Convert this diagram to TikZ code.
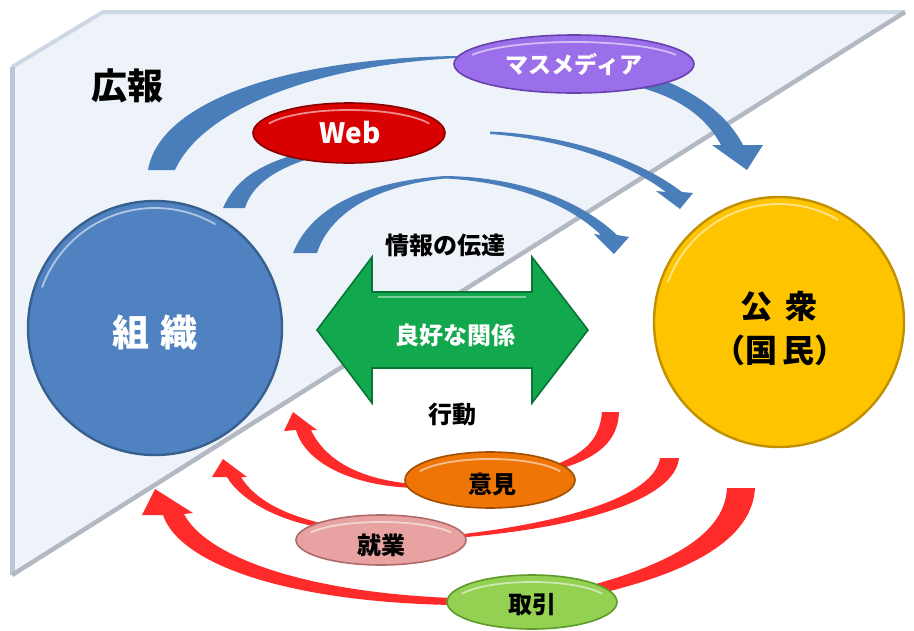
\documentclass[tikz,border=0pt]{standalone}
\usepackage{fontspec}
\setmainfont{Noto Sans CJK JP}
\usetikzlibrary{shapes.geometric}
\definecolor{bgfill}{HTML}{EEF2F9}
\definecolor{bgedge}{HTML}{B9C6D8}
\definecolor{diag}{HTML}{B2B9C3}
\definecolor{infoblue}{HTML}{4A7EBB}
\definecolor{actred}{HTML}{FF2A2A}
\definecolor{orgfill}{HTML}{5082C2}
\definecolor{orgedge}{HTML}{38608F}
\definecolor{pubfill}{HTML}{FFC400}
\definecolor{pubedge}{HTML}{C09000}
\definecolor{relfill}{HTML}{12A84E}
\definecolor{reledge}{HTML}{0A7436}
\definecolor{mmfill}{HTML}{9C6FEA}
\definecolor{mmedge}{HTML}{6840B0}
\definecolor{webfill}{HTML}{D80000}
\definecolor{webedge}{HTML}{8A0000}
\definecolor{opfill}{HTML}{EE7506}
\definecolor{opedge}{HTML}{A04E00}
\definecolor{jobfill}{HTML}{E8A2A2}
\definecolor{jobedge}{HTML}{B06A6A}
\definecolor{trfill}{HTML}{94D052}
\definecolor{tredge}{HTML}{5E9A2A}
\tikzset{
  medium/.style={ellipse, draw, line width=1.6pt, inner sep=0pt},
  bigball/.style={circle, draw, line width=2.4pt, inner sep=0pt},
  lbl/.style={inner sep=0pt, font=\bfseries\fontsize{24}{26}\selectfont},
  gloss/.style={white, opacity=0.55, line width=1.8pt, line cap=round},
}
\begin{document}
\begin{tikzpicture}[x=1pt,y=-1pt]
\useasboundingbox (0,0) rectangle (914,630);
% background panel
\fill[bgfill] (12,67) -- (103,12) -- (905,12) -- (12,575) -- cycle;
\draw[bgedge!70, line width=4pt, line join=round] (12,67) -- (103,12) -- (905,12);
\draw[bgedge, line width=5pt] (12,67) -- (12,575);
\draw[diag, line width=4.5pt] (905,12) -- (12,575);

% blue information arcs
\fill[infoblue] (148,170) .. controls (160,100) and (290,58) .. (458,56)
  -- (458,58) .. controls (330,64) and (205,104) .. (175,170) -- cycle;
\fill[infoblue] (640,72) .. controls (685,85) and (725,110) .. (743,145)
  -- (763,145) -- (747,170) -- (712,145) -- (721,145)
  .. controls (705,115) and (675,95) .. (630,85) -- cycle;
\fill[infoblue] (223,208) .. controls (235,180) and (260,163) .. (305,152)
  -- (305,160) .. controls (275,170) and (252,185) .. (245,208) -- cycle;
\fill[infoblue] (490,131.5) .. controls (570,135) and (640,160) .. (682,192)
  -- (693,193) -- (680,209) -- (656,191) -- (666,192)
  .. controls (630,165) and (570,140) .. (490,134) -- cycle;
\fill[infoblue] (293,253) .. controls (310,210) and (360,182) .. (445,176)
  .. controls (520,177) and (580,200) .. (617,235)
  -- (629,237) -- (614,254) -- (594,234) -- (601,235)
  .. controls (570,205) and (515,182) .. (445,178.5)
  .. controls (375,186) and (330,213) .. (317,253) -- cycle;

% red action arcs
\fill[actred] (311,430) .. controls (325,460) and (360,480) .. (415,484)
  -- (415,488) .. controls (350,486) and (305,462) .. (296,430)
  -- (284,431) -- (293,412) -- (317,430) -- cycle;
\fill[actred] (602,412) -- (619,412) .. controls (618,440) and (600,458) .. (556,470)
  -- (552,466) .. controls (590,452) and (600,435) .. (602,412) -- cycle;
\fill[actred] (241,477) .. controls (255,500) and (285,515) .. (325,524)
  -- (325,528) .. controls (280,522) and (240,500) .. (227,477)
  -- (212,477) -- (223,459) -- (247,477) -- cycle;
\fill[actred] (660,458) -- (679,458) .. controls (675,500) and (580,528) .. (455,538)
  -- (455,535) .. controls (570,522) and (655,495) .. (660,458) -- cycle;
\fill[actred] (184,514) .. controls (205,555) and (300,592) .. (452,598)
  -- (452,605) .. controls (290,602) and (180,565) .. (163,515)
  -- (142,515) -- (155,489) -- (193,513) -- cycle;
\fill[actred] (727,488) -- (755,488) .. controls (752,540) and (690,572) .. (598,594)
  -- (596,584) .. controls (680,560) and (725,530) .. (727,488) -- cycle;

% media ellipses
\node[medium, fill=mmfill, draw=mmedge, minimum width=240pt, minimum height=58pt] (mm) at (574,64) {};
\draw[gloss] (574,64) ++(205:112 and 22) arc[start angle=205, end angle=335, x radius=112, y radius=22];
\node[text=white, font=\bfseries\fontsize{23}{25}\selectfont, inner sep=0pt] (mmt) at (mm.center) {マスメディア};
\node[medium, fill=webfill, draw=webedge, minimum width=192pt, minimum height=60pt] (web) at (349,133) {};
\draw[gloss] (349,133) ++(205:88 and 23) arc[start angle=205, end angle=335, x radius=88, y radius=23];
\node[text=white, font=\bfseries\fontsize{28}{30}\selectfont, inner sep=0pt] (webt) at (350,133) {Web};
\node[medium, fill=opfill, draw=opedge, minimum width=170pt, minimum height=56pt] (op) at (490,480) {};
\draw[gloss] (490,480) ++(205:77 and 21) arc[start angle=205, end angle=335, x radius=77, y radius=21];
\node[lbl] (opt) at (492,484) {意見};
\node[medium, fill=jobfill, draw=jobedge, minimum width=170pt, minimum height=50pt] (job) at (381,540) {};
\draw[gloss] (381,540) ++(205:77 and 18) arc[start angle=205, end angle=335, x radius=77, y radius=18];
\node[lbl] (jobt) at (381,545) {就業};
\node[medium, fill=trfill, draw=tredge, minimum width=170pt, minimum height=54pt] (tr) at (532,602) {};
\draw[gloss] (532,602) ++(205:77 and 20) arc[start angle=205, end angle=335, x radius=77, y radius=20];
\node[lbl] (trt) at (532,605) {取引};

% main circles
\node[bigball, fill=orgfill, draw=orgedge, minimum size=254pt] (org) at (155,328) {};
\draw[gloss] (155,328) ++(200:120) arc[start angle=200, end angle=300, radius=120];
\node[text=white, font=\bfseries\fontsize{37}{40}\selectfont, inner sep=0pt] (orgt) at (155,333) {組\hspace{0.3em}織};
\node[bigball, fill=pubfill, draw=pubedge, minimum size=250pt] (pub) at (779,322) {};
\draw[gloss] (779,322) ++(200:118) arc[start angle=200, end angle=300, radius=118];
\node[font=\bfseries\fontsize{32}{34}\selectfont, inner sep=0pt] (pubt1) at (779,306) {公\hspace{0.4em}衆};
\node[font=\bfseries\fontsize{32}{34}\selectfont, inner sep=0pt] (pubt2) at (780,350) {（国\hspace{0.15em}民）};

% relationship double arrow
\draw[fill=relfill, draw=reledge, line width=1.6pt, line join=miter]
  (317,330) -- (372,257) -- (372,292) -- (532,292) -- (532,257) -- (588,330)
  -- (532,403) -- (532,368) -- (372,368) -- (372,403) -- cycle;
\draw[white, opacity=0.45, line width=1.5pt] (378,297) -- (526,297);
\node[text=white, font=\bfseries\fontsize{24}{26}\selectfont, inner sep=0pt] (rel) at (455,335) {良好な関係};

% labels
\node[font=\bfseries\fontsize{36}{38}\selectfont, inner sep=0pt] (pr) at (127,86) {広報};
\node[lbl] (info) at (445,245) {情報の伝達};
\node[lbl] (act) at (452,414) {行動};
\end{tikzpicture}
\end{document}
